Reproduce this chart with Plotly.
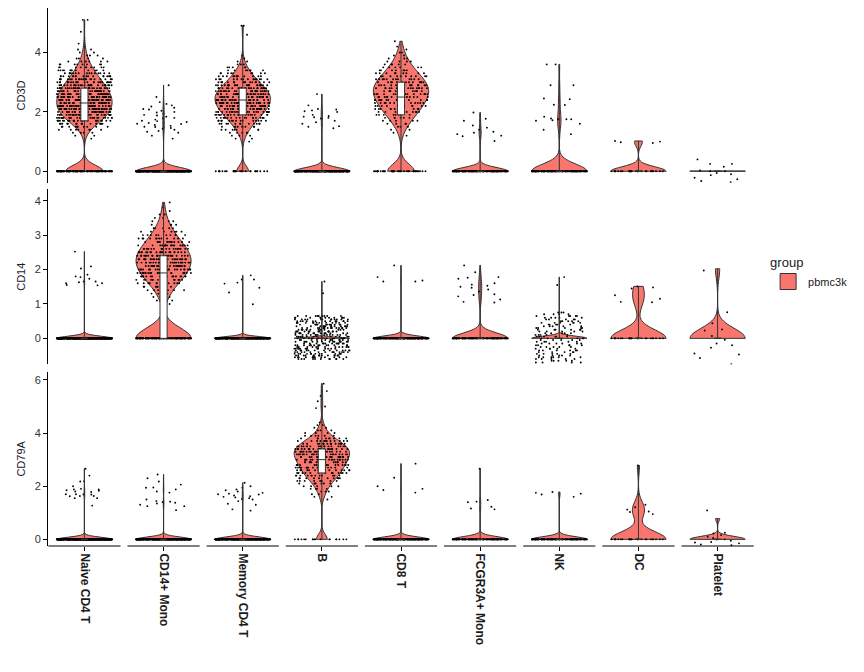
import numpy as np
import plotly.graph_objects as go
from plotly.subplots import make_subplots

# ---------------- data ----------------
# each group: list of entries; a float is one cell, a (value, count) pair is `count` cells at that value
CELL_TYPES = ["Naive CD4 T", "CD14+ Mono", "Memory CD4 T", "B", "CD8 T",
              "FCGR3A+ Mono", "NK", "DC", "Platelet"]
GENES = ["CD3D", "CD14", "CD79A"]

# ---- CD3D ----
CD3D_NAIVE_CD4_T = [(0, 120), (1.1, 1), (1.2, 2), (1.3, 4), (1.4, 7), (1.5, 11), (1.6, 16), (1.7, 22),
                    (1.8, 27), (1.9, 31), (2.0, 34), (2.1, 35), (2.2, 36), (2.3, 37), (2.4, 37), (2.5, 36),
                    (2.6, 34), (2.7, 32), (2.8, 30), (2.9, 27), (3.0, 24), (3.1, 21), (3.2, 18), (3.3, 15),
                    (3.4, 12), (3.5, 10), (3.6, 8), (3.7, 6), (3.8, 4), (3.9, 3), (4.0, 2), (4.1, 2),
                    (4.2, 1), (4.3, 1), (4.7, 1), (5.1, 2)]
CD3D_CD14_MONO = [(0, 440), 1.1, 1.2, 1.3, 1.33, 1.36, 1.4, 1.43, 1.46, 1.49, 1.5, 1.53, 1.56, 1.59,
                  1.6, 1.63, 1.66, 1.69, 1.7, 1.74, 1.78, 1.8, 1.84, 1.88, 1.9, 1.94, 1.98, 2.0, 2.04,
                  2.08, 2.1, 2.14, 2.18, 2.22, 2.27, 2.33, 2.5, 2.9]
CD3D_MEMORY_CD4_T = [(0, 28), (1.0, 1), (1.1, 2), (1.2, 3), (1.3, 5), (1.4, 7), (1.5, 9), (1.6, 12),
                     (1.7, 15), (1.8, 18), (1.9, 21), (2.0, 24), (2.1, 26), (2.2, 28), (2.3, 30), (2.4, 31),
                     (2.5, 31), (2.6, 30), (2.7, 28), (2.8, 25), (2.9, 21), (3.0, 18), (3.1, 15), (3.2, 12),
                     (3.3, 9), (3.4, 7), (3.5, 5), (3.6, 3), (3.7, 2), (3.8, 1), (3.9, 1), (4.6, 1), (4.9, 2)]
CD3D_B = [(0, 325), 1.45, 1.5, 1.52, 1.6, 1.65, 1.7, 1.78, 1.8, 1.82, 1.84, 1.86, 1.9, 2.0, 2.02,
          2.05, 2.08, 2.1, 2.22, 2.6]
CD3D_CD8_T = [(0, 40), (1.2, 1), (1.3, 1), (1.4, 2), (1.5, 3), (1.6, 4), (1.7, 5), (1.8, 6), (1.9, 8),
              (2.0, 9), (2.1, 10), (2.2, 11), (2.3, 12), (2.4, 13), (2.5, 14), (2.6, 14), (2.7, 15),
              (2.8, 15), (2.9, 14), (3.0, 13), (3.1, 12), (3.2, 10), (3.3, 9), (3.4, 7), (3.5, 6),
              (3.6, 5), (3.7, 4), (3.8, 3), (3.9, 2), (4.0, 2), (4.1, 1), (4.2, 1), (4.38, 1)]
CD3D_FCGR3A_MONO = [(0, 150), 1.02, 1.18, 1.2, 1.25, 1.3, 1.33, 1.4, 1.47, 1.54, 1.7, 1.77, 1.98]
CD3D_NK = [(0, 137), 1.25, 1.4, 1.6, 1.7, 1.72, 1.75, 1.75, 1.75, 1.78, 1.84, 2.23, 2.24, 2.43, 2.45,
           2.9, 2.9, 3.6, 3.6]
CD3D_DC = [(0, 28), 0.95, 0.98, 1.0, 1.02]
CD3D_PLATELET = [(0, 14)]
CD3D_PLATELET_POINTS = [-0.37, -0.33, -0.27, -0.22, -0.13, -0.1, -0.06, 0.0, 0.0, 0.03, 0.15, 0.25,
                        0.25, 0.4]

# ---- CD14 ----
CD14_NAIVE_CD4_T = [(0, 683), 1.54, 1.55, 1.6, 1.6, 1.63, 1.65, 1.65, 1.73, 1.78, 1.8, 1.85, 2.03,
                    2.09, 2.52]
CD14_CD14_MONO = [(0, 165), (1.0, 1), (1.1, 2), (1.2, 3), (1.3, 4), (1.4, 6), (1.5, 8), (1.6, 12),
                  (1.7, 15), (1.8, 17), (1.9, 20), (2.0, 22), (2.1, 24), (2.2, 25), (2.3, 25), (2.4, 24),
                  (2.5, 22), (2.6, 20), (2.7, 17), (2.8, 14), (2.9, 12), (3.0, 10), (3.1, 7), (3.2, 5),
                  (3.3, 4), (3.4, 3), (3.5, 2), (3.6, 2), (3.7, 1), (3.8, 1), (3.95, 1)]
CD14_MEMORY_CD4_T = [(0, 475), 0.99, 1.33, 1.47, 1.59, 1.62, 1.71, 1.71, 1.83]
CD14_B = [(0, 342), 1.31, 1.65]
CD14_B_POINTS = [(-0.6, 11), (-0.55, 13), (-0.5, 14), (-0.45, 13), (-0.4, 14), (-0.35, 13), (-0.3, 14),
                 (-0.25, 13), (-0.2, 14), (-0.15, 13), (-0.1, 14), (-0.05, 13), (0.0, 14), (0.05, 13),
                 (0.1, 14), (0.15, 13), (0.2, 14), (0.25, 13), (0.3, 14), (0.35, 13), (0.4, 14),
                 (0.45, 13), (0.5, 13), (0.55, 12), (0.6, 11), (0.65, 9), 1.31, 1.65]
CD14_CD8_T = [(0, 266), 1.65, 1.65, 1.68, 1.78, 2.12]
CD14_FCGR3A_MONO = [(0, 144), 1.04, 1.06, 1.13, 1.22, 1.26, 1.28, 1.36, 1.42, 1.47, 1.5, 1.53, 1.56,
                    1.6, 1.73, 1.76, 1.78, 1.92, 2.12]
CD14_NK = [(0, 153), 1.55, 1.78]
CD14_NK_POINTS = [(-0.7, 4), (-0.65, 5), (-0.6, 5), (-0.55, 6), (-0.5, 5), (-0.45, 5), (-0.4, 5),
                  (-0.35, 6), (-0.3, 5), (-0.25, 5), (-0.2, 5), (-0.15, 6), (-0.1, 5), (-0.05, 5),
                  (0.0, 5), (0.05, 6), (0.1, 5), (0.15, 5), (0.2, 5), (0.25, 6), (0.3, 5), (0.35, 5),
                  (0.4, 5), (0.45, 6), (0.5, 5), (0.55, 5), (0.6, 5), (0.65, 5), (0.7, 4), (0.75, 3),
                  1.55, 1.78]
CD14_DC = [(0, 25), 1.05, 1.06, 1.15, 1.25, 1.45, 1.48, 1.51]
CD14_PLATELET = [(0, 13), 2.02]
CD14_PLATELET_POINTS = [1.97, 0.76, 0.44, 0.26, 0.23, 0.07, -0.04, -0.15, -0.2, -0.27, -0.44, -0.47,
                        -0.57, -0.75]

# ---- CD79A ----
CD79A_NAIVE_CD4_T = [(0, 675), 1.27, 1.55, 1.55, 1.62, 1.63, 1.63, 1.69, 1.69, 1.7, 1.7, 1.78, 1.8,
                     1.83, 1.85, 1.88, 1.88, 1.9, 2.0, 2.18, 2.19, 2.4, 2.66]
CD79A_CD14_MONO = [(0, 461), 1.1, 1.25, 1.25, 1.3, 1.35, 1.38, 1.4, 1.42, 1.44, 1.5, 1.76, 1.8, 1.88,
                   1.94, 1.95, 2.06, 2.18, 2.3, 2.44]
CD79A_MEMORY_CD4_T = [(0, 461), 1.08, 1.13, 1.3, 1.34, 1.44, 1.5, 1.52, 1.55, 1.58, 1.6, 1.62, 1.65,
                      1.69, 1.7, 1.72, 1.75, 1.8, 1.85, 1.88, 1.94, 2.0, 2.13]
CD79A_B = [(0, 18), (1.5, 1), (1.6, 2), (1.7, 2), (1.8, 3), (1.9, 4), (2.0, 5), (2.1, 6), (2.2, 8),
           (2.3, 10), (2.4, 12), (2.5, 13), (2.6, 14), (2.7, 15), (2.8, 16), (2.9, 17), (3.0, 18),
           (3.1, 19), (3.2, 20), (3.3, 20), (3.4, 20), (3.5, 18), (3.6, 15), (3.7, 12), (3.8, 9),
           (3.9, 6), (4.0, 4), (4.1, 3), (4.2, 2), (4.3, 2), (4.4, 1), 4.94, 5.0, 5.2, 5.4, 5.58, 5.86]
CD79A_CD8_T = [(0, 265), 1.76, 1.86, 1.9, 2.0, 2.32, 2.85]
CD79A_FCGR3A_MONO = [(0, 155), 1.13, 1.16, 1.23, 1.4, 1.42, 1.48, 2.66]
CD79A_NK = [(0, 150), 1.6, 1.69, 1.72, 1.75, 1.78]
CD79A_DC = [(0, 25), 0.95, 1.03, 1.05, 1.12, 1.21, 1.3, 2.78]
CD79A_PLATELET = [(0, 13), 0.78]
CD79A_PLATELET_POINTS = [1.09, 0.25, 0.22, 0.16, 0.1, 0.05, 0.0, -0.01, -0.05, -0.1, -0.12, -0.15,
                         -0.19, -0.22]

GENE_TABLE = {
    "CD3D": [CD3D_NAIVE_CD4_T, CD3D_CD14_MONO, CD3D_MEMORY_CD4_T, CD3D_B, CD3D_CD8_T,
             CD3D_FCGR3A_MONO, CD3D_NK, CD3D_DC, CD3D_PLATELET],
    "CD14": [CD14_NAIVE_CD4_T, CD14_CD14_MONO, CD14_MEMORY_CD4_T, CD14_B, CD14_CD8_T,
             CD14_FCGR3A_MONO, CD14_NK, CD14_DC, CD14_PLATELET],
    "CD79A": [CD79A_NAIVE_CD4_T, CD79A_CD14_MONO, CD79A_MEMORY_CD4_T, CD79A_B, CD79A_CD8_T,
              CD79A_FCGR3A_MONO, CD79A_NK, CD79A_DC, CD79A_PLATELET],
}
# displayed (vertically jittered) point positions for groups drawn that way in the original
POINT_OVERRIDES = {
    ("CD3D", "Platelet"): CD3D_PLATELET_POINTS,
    ("CD14", "B"): CD14_B_POINTS,
    ("CD14", "NK"): CD14_NK_POINTS,
    ("CD14", "Platelet"): CD14_PLATELET_POINTS,
    ("CD79A", "Platelet"): CD79A_PLATELET_POINTS,
}
Y_TICKS = {"CD3D": [0, 2, 4], "CD14": [0, 1, 2, 3, 4], "CD79A": [0, 2, 4, 6]}
Y_RANGES = {"CD3D": [-0.39, 5.50], "CD14": [-0.75, 4.33], "CD79A": [-0.25, 6.31]}


def expand(entries):
    out = []
    for e in entries:
        if isinstance(e, tuple):
            out.extend([e[0]] * e[1])
        else:
            out.append(e)
    return np.array(out, dtype=float)


def nrd0(v):
    n = len(v)
    sd = float(np.std(v, ddof=1))
    iqr = float(np.percentile(v, 75) - np.percentile(v, 25))
    lo = min(sd, iqr / 1.34)
    if lo <= 0:
        lo = sd if sd > 0 else (abs(v[0]) if v[0] != 0 else 1.0)
    return 0.9 * lo * n ** -0.2


FILL = "#F8766D"
EDGE = "#333333"
VIOLIN_W = 0.7
BOX_W = 0.09

fig = make_subplots(rows=3, cols=1, shared_xaxes=True)

violins, points, boxes = [], [], []
for gi, gene in enumerate(GENES):
    row = gi + 1
    for ci, ct in enumerate(CELL_TYPES):
        vals = expand(GENE_TABLE[gene][ci])
        bw = nrd0(vals)
        vkw = dict(spanmode="hard")
        if vals.max() == vals.min():
            vkw = dict(spanmode="manual", span=[vals.min(), vals.min() + 0.01])
        violins.append((row, go.Violin(
            x=[ct] * len(vals), y=vals, bandwidth=bw, scalemode="width", width=VIOLIN_W,
            fillcolor=FILL, line=dict(color=EDGE, width=1), points=False,
            box=dict(visible=False), meanline=dict(visible=False),
            hoverinfo="skip", showlegend=False, **vkw)))
        if (gene, ct) in POINT_OVERRIDES:
            groups = [expand(POINT_OVERRIDES[(gene, ct)])]
        else:
            groups = [vals[vals == 0], vals[vals != 0]]
        for g in groups:
            if len(g) == 0:
                continue
            points.append((row, go.Box(
                x=[ct] * len(g), y=g, boxpoints="all", jitter=1, pointpos=0, width=VIOLIN_W,
                fillcolor="rgba(0,0,0,0)", line=dict(width=0, color="rgba(0,0,0,0)"),
                marker=dict(size=1.9, color="black"), hoverinfo="skip", showlegend=False)))
        boxes.append((row, go.Box(
            x=[ct] * len(vals), y=vals, boxpoints=False, width=BOX_W, whiskerwidth=0,
            fillcolor="white", line=dict(color=EDGE, width=1), hoverinfo="skip",
            showlegend=False)))

for row, tr in violins + points + boxes:
    fig.add_trace(tr, row=row, col=1)

# legend entry
fig.add_trace(go.Scatter(x=[None], y=[None], mode="markers", name="pbmc3k",
                         marker=dict(symbol="square", size=16, color=FILL,
                                     line=dict(color=EDGE, width=1)),
                         showlegend=True), row=1, col=1)

domains = {"CD3D": [0.675, 1.0], "CD14": [0.338, 0.663], "CD79A": [0.0, 0.324]}
for gi, gene in enumerate(GENES):
    row = gi + 1
    fig.update_yaxes(row=row, col=1, domain=domains[gene], range=Y_RANGES[gene],
                     tickvals=Y_TICKS[gene], showline=True, linecolor="black", linewidth=1,
                     ticks="outside", ticklen=4, tickcolor="black", showgrid=False,
                     zeroline=False, automargin=False, tickfont=dict(size=11, color="#333333"),
                     title=dict(text=gene, font=dict(size=11, color="#1a1a2e"), standoff=6))
    fig.update_xaxes(row=row, col=1, range=[-0.46, 8.46], showline=False, showgrid=False,
                     zeroline=False, automargin=False, categoryorder="array",
                     categoryarray=CELL_TYPES,
                     ticks="" if row < 3 else "outside", showticklabels=(row == 3),
                     ticklen=4, tickcolor="black", tickangle=90,
                     tickfont=dict(size=12, color="#1a1a1a",
                                   family="Liberation Sans, Arial, sans-serif", weight="bold"))

# broken x-axis line (one segment per category) on the bottom panel
for i in range(len(CELL_TYPES)):
    fig.add_shape(type="line", xref="x3", yref="y3 domain", x0=i - 0.456, x1=i + 0.456,
                  y0=0, y1=0, line=dict(color="black", width=1))

# page body has an 8px margin, so the figure is 16px smaller than the window
fig.update_layout(
    width=848, height=656, margin=dict(l=40, r=102, t=0, b=118, autoexpand=False),
    plot_bgcolor="white", paper_bgcolor="white",
    violinmode="overlay", boxmode="overlay",
    font=dict(family="Liberation Sans, Arial, sans-serif", color="#1a1a1a"),
    showlegend=True,
    legend=dict(title=dict(text="group", font=dict(size=13)), x=1.02, y=0.55,
                xanchor="left", yanchor="top", font=dict(size=11), bgcolor="rgba(0,0,0,0)"),
)

fig.write_html("out.html")
